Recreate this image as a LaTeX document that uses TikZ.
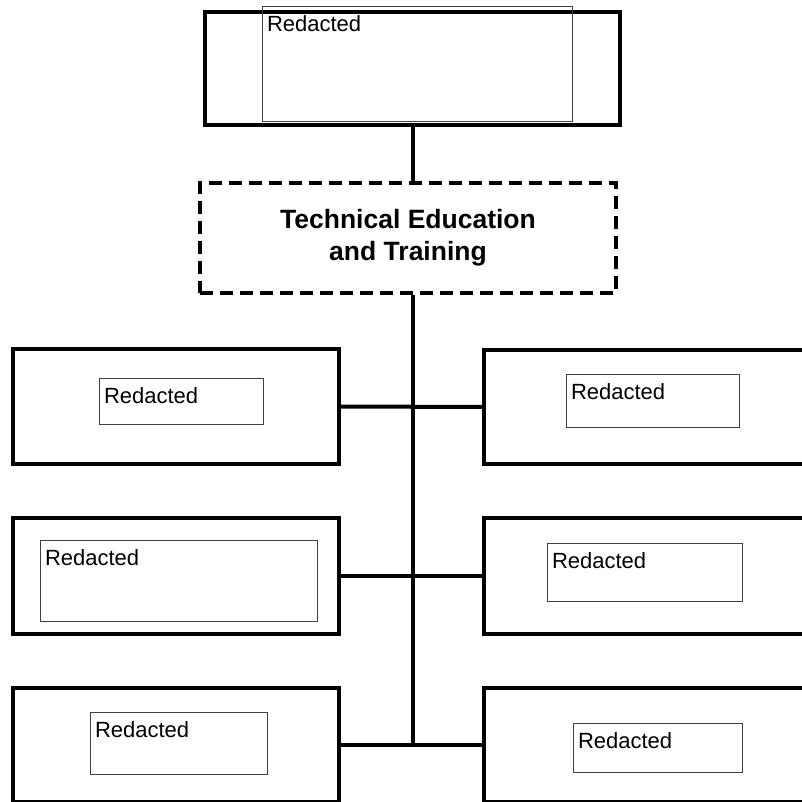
\documentclass[tikz,border=0pt]{standalone}
\usepackage{fontspec}
\setmainfont{Liberation Sans}
\usepackage{tikz}

\begin{document}
\begin{tikzpicture}[x=1pt,y=-1pt,line width=4pt]
    \tikzstyle{unit box}=[draw,rectangle,line width=4pt,inner sep=0]
    \tikzstyle{dashed box}=[unit box,dash pattern=on 13pt off 7pt,align=center,font=\bfseries\fontsize{26.5}{32}\selectfont]
    \tikzstyle{name box}=[draw=black!75,rectangle,line width=1pt,inner sep=0,anchor=north west]
    \tikzstyle{name text}=[anchor=north west,inner sep=0,xshift=3pt,yshift=-8pt,font=\fontsize{22}{26}\selectfont]
    \path[use as bounding box,clip] (0,0) rectangle (802,802);

    % head of the chart
    \node(top)[unit box,minimum width=415,minimum height=113] at (412.5,68.5) {};
    \node(topname)[name box,minimum width=310,minimum height=115,label={[name text]north west:Redacted}] at (262,6) {};
    \node(tet)[dashed box,minimum width=416,minimum height=110] at (408,238) {Technical Education\\and Training};

    % left column
    \node(l1)[unit box,minimum width=326,minimum height=115] at (176,406.5) {};
    \node(l2)[unit box,minimum width=326,minimum height=116] at (176,576) {};
    \node(l3)[unit box,minimum width=326,minimum height=114] at (176,745) {};
    % right column, running off the page
    \node(r1)[unit box,minimum width=356,minimum height=114] at (662,407) {};
    \node(r2)[unit box,minimum width=356,minimum height=116] at (662,576) {};
    \node(r3)[unit box,minimum width=356,minimum height=114] at (662,745) {};

    % names inside the units
    \node(l1name)[name box,minimum width=164,minimum height=46,label={[name text]north west:Redacted}] at (99,378) {};
    \node(r1name)[name box,minimum width=173,minimum height=53,label={[name text]north west:Redacted}] at (566,374) {};
    \node(l2name)[name box,minimum width=277,minimum height=81,label={[name text]north west:Redacted}] at (40,540) {};
    \node(r2name)[name box,minimum width=195,minimum height=58,label={[name text]north west:Redacted}] at (547,543) {};
    \node(l3name)[name box,minimum width=177,minimum height=62,label={[name text]north west:Redacted}] at (90,712) {};
    \node(r3name)[name box,minimum width=169,minimum height=49,label={[name text]north west:Redacted}] at (573,723) {};

    % trunk
    \coordinate(foot) at (l3.east -| top.south);
    \draw (top.south) -- (top.south |- tet.north);
    \draw (top.south |- tet.south) -- (foot);
    % branches
    \draw (l1.east) -- (r1.west);
    \draw (l2.east) -- (r2.west);
    \draw (l3.east) -- (r3.west);
\end{tikzpicture}
\end{document}
